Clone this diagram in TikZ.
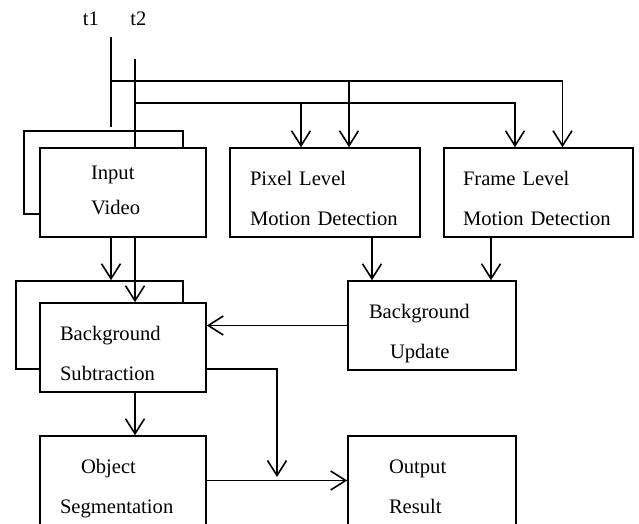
\documentclass[tikz,border=0pt]{standalone}
\usepackage{fontspec}
\setmainfont{Liberation Serif}
\usetikzlibrary{arrows.meta}
\begin{document}
\begin{tikzpicture}[x=1pt,y=-1pt,line width=1.6pt,
  lbl/.style={font=\fontsize{20.6}{40}\selectfont},
  box/.style={draw,fill=white,minimum height=89pt,align=left,lbl,text height=31pt,text depth=46pt},
  back/.style={draw,fill=white,inner sep=0pt},
  arr/.style={-{Straight Barb[length=15pt,width=19pt]}}]
\useasboundingbox (0,0) rectangle (639,524);
\clip (0,0) rectangle (639,524);

\node[lbl] (t1) at (91,18.5) {t1};
\node[lbl] (t2) at (138.5,18.5) {t2};

\node[back,minimum width=159pt,minimum height=83pt] (ivback) at (103.5,172.5) {};
\node[box,inner xsep=51pt,text width=64pt,font=\fontsize{20.6}{35}\selectfont,text height=14pt,text depth=41pt] (iv) at (123,192.5) {Input\\Video};
\node[box,inner xsep=20pt,text width=150pt] (pl) at (325,192.5) {Pixel Level\\Motion Detection};
\node[box,inner xsep=19pt,text width=151pt] (fl) at (538.5,192.5) {Frame Level\\Motion Detection};
\node[box,inner xsep=21pt,text width=126pt] (bu) at (432,325.5) {Background\\\hspace*{21pt}Update};
\node[back,minimum width=167pt,minimum height=88pt] (bsback) at (99.5,325) {};
\node[box,inner xsep=20pt,text width=126pt] (bs) at (123,347.5) {Background\\Subtraction};
\node[box,inner xsep=20pt,text width=126pt] (os) at (123,480.5) {\hspace*{21pt}Object\\Segmentation};
\node[box,inner xsep=41pt,text width=86pt] (or) at (432,480.5) {Output\\Result};

\coordinate (t1top) at (111,37);
\coordinate (t1end) at (111,127);
\coordinate (t2top) at (135,59);
\coordinate (bus1) at (111,81);
\coordinate (bus2) at (135,103);
\coordinate (join) at (277,477);

\draw (t1top) -- (t1end);
\draw (t2top) -- (t2top |- iv.north);
\draw[arr] (bus1) -| ([xshift=24pt]fl.north);
\draw[arr] ([xshift=24pt]pl.north |- bus1) -- ([xshift=24pt]pl.north);
\draw[arr] (bus2) -| ([xshift=-23.5pt]fl.north);
\draw[arr] ([xshift=-24pt]pl.north |- bus2) -- ([xshift=-24pt]pl.north);

\draw[arr] ([xshift=-12pt]iv.south) -- ([xshift=-12pt]iv.south |- bsback.north);
\draw[arr] ([xshift=12pt]iv.south) -- ([xshift=12pt]iv.south |- bs.north);
\draw[arr] ([xshift=47pt]pl.south) -- ([xshift=47pt]pl.south |- bu.north);
\draw[arr] ([xshift=-47.5pt]fl.south) -- ([xshift=-47.5pt]fl.south |- bu.north);
\draw[arr] (bu.west) -- (bu.west -| bs.east);
\draw[arr] ([yshift=-21.5pt]bs.east) -| (join);
\draw[arr] ([xshift=12pt]bs.south) -- ([xshift=12pt]bs.south |- os.north);
\draw[arr] (os.east) -- (or.west);
\end{tikzpicture}
\end{document}
